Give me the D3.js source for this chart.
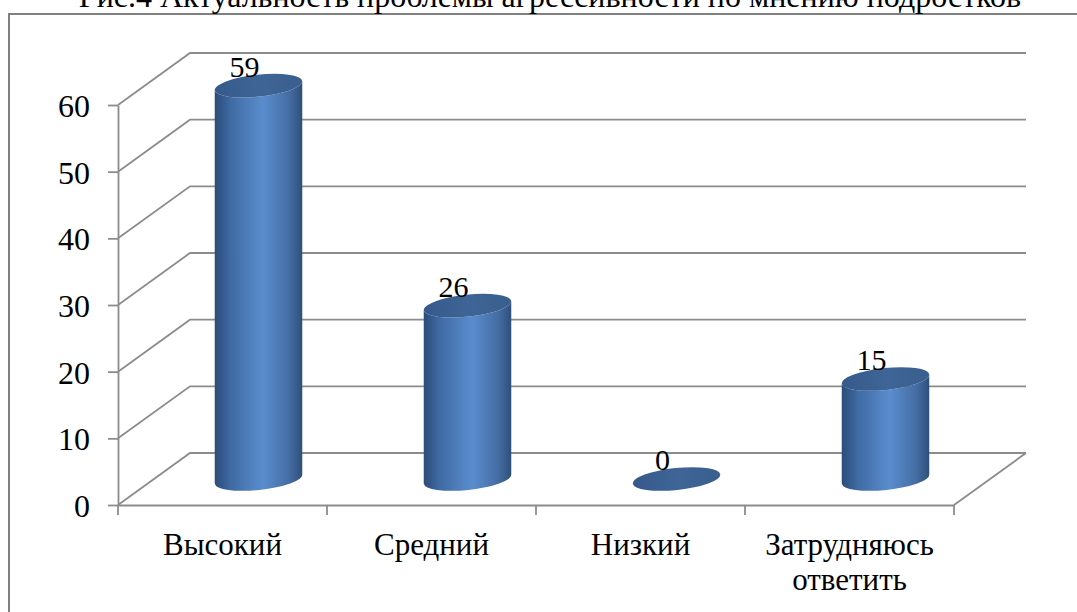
<!DOCTYPE html>
<html>
<head>
<meta charset="utf-8">
<script src="https://cdn.jsdelivr.net/npm/d3@7"></script>
<style>
  body { margin: 0; background: #fff; }
</style>
</head>
<body>
<div class="chart"></div>
<script>
var width = 1077;
var height = 612;
var serif = "'Liberation Serif', 'Times New Roman', Times, serif";

var title = "Рис.4 Актуальность проблемы агрессивности по мнению подростков";
var categories = ["Высокий", "Средний", "Низкий", "Затрудняюсь ответить"];
var values = [59, 26, 0, 15];
var yTicks = [0, 10, 20, 30, 40, 50, 60];

// front plane of the 3d box and the depth offset of the back wall
var plotLeft = 118, plotRight = 954, plotBottom = 505, plotTop = 105;
var depthX = 72, depthY = -52;

var x = d3.scaleBand().domain(categories).range([plotLeft, plotRight]);
var y = d3.scaleLinear().domain([0, 60]).range([plotBottom, plotTop]);

var svg = d3.select(".chart")
    .append("svg")
    .attr("width", width)
    .attr("height", height)
    .attr("font-family", serif);

var defs = svg.append("defs");

var side = defs.append("linearGradient")
    .attr("id", "side")
    .attr("x1", "0%").attr("x2", "100%").attr("y1", "0%").attr("y2", "0%");
side.append("stop").attr("offset", "0%").attr("stop-color", "#2b4c78");
side.append("stop").attr("offset", "18%").attr("stop-color", "#3f6aa3");
side.append("stop").attr("offset", "55%").attr("stop-color", "#5a8dce");
side.append("stop").attr("offset", "85%").attr("stop-color", "#456da3");
side.append("stop").attr("offset", "100%").attr("stop-color", "#2e4f7a");

var cap = defs.append("linearGradient")
    .attr("id", "cap")
    .attr("x1", "0%").attr("x2", "100%").attr("y1", "0%").attr("y2", "0%");
cap.append("stop").attr("offset", "0%").attr("stop-color", "#35598a");
cap.append("stop").attr("offset", "50%").attr("stop-color", "#3e6596");
cap.append("stop").attr("offset", "100%").attr("stop-color", "#3a5f8e");

// outer frame
svg.append("rect")
    .attr("x", 9)
    .attr("y", 14)
    .attr("width", width + 20)
    .attr("height", height + 20)
    .attr("fill", "none")
    .attr("stroke", "#808080")
    .attr("stroke-width", 2);

svg.append("text")
    .attr("x", 550)
    .attr("y", 7)
    .attr("text-anchor", "middle")
    .style("font-family", serif)
    .style("font-size", "32px")
    .text(title);

// side wall + back wall gridlines
svg.selectAll(".grid")
    .data(yTicks)
    .enter().append("polyline")
    .attr("class", "grid")
    .attr("points", function(d) {
        return [[plotLeft, y(d)], [plotLeft + depthX, y(d) + depthY], [plotRight + depthX, y(d) + depthY]].join(" ");
    })
    .attr("fill", "none")
    .attr("stroke", "#8c8c8c")
    .attr("stroke-width", 1.8);

// floor right edge
svg.append("line")
    .attr("x1", plotRight).attr("y1", plotBottom)
    .attr("x2", plotRight + depthX).attr("y2", plotBottom + depthY)
    .attr("stroke", "#8c8c8c")
    .attr("stroke-width", 1.8);

// category boundary ticks
svg.selectAll(".xtick")
    .data(categories.concat([null]))
    .enter().append("line")
    .attr("class", "xtick")
    .attr("x1", function(d) { return d == null ? plotRight : x(d); })
    .attr("x2", function(d) { return d == null ? plotRight : x(d); })
    .attr("y1", plotBottom)
    .attr("y2", plotBottom + 10)
    .attr("stroke", "#8c8c8c")
    .attr("stroke-width", 1.8);

var yAxis = d3.axisLeft(y).tickValues(yTicks).tickSize(10).tickSizeOuter(0).tickPadding(18);
var yAxisG = svg.append("g")
    .attr("transform", "translate(" + plotLeft + ",0)")
    .call(yAxis)
    .attr("font-family", serif);
yAxisG.select(".domain").attr("stroke", "#8c8c8c").attr("stroke-width", 1.8);
yAxisG.selectAll(".tick line").attr("stroke", "#8c8c8c").attr("stroke-width", 1.8);
yAxisG.selectAll(".tick text")
    .style("font-family", serif)
    .style("font-size", "32px")
    .attr("fill", "#000")
    .attr("dy", "0.36em");

var xAxis = d3.axisBottom(x).tickSize(0).tickSizeOuter(0).tickPadding(0);
var xAxisG = svg.append("g")
    .attr("transform", "translate(0," + plotBottom + ")")
    .call(xAxis)
    .attr("font-family", serif);
xAxisG.select(".domain").attr("stroke", "#8c8c8c").attr("stroke-width", 1.8);
xAxisG.selectAll(".tick text").each(function(d) {
    var t = d3.select(this);
    var words = d.split(" ");
    t.text(null).attr("y", 0).attr("dy", null).attr("fill", "#000")
        .style("font-family", serif).style("font-size", "31px");
    words.forEach(function(w, i) {
        t.append("tspan").attr("x", 0).attr("y", 50 + i * 35).text(w);
    });
});

// cylinders
var rx = 44, ry = 11, tilt = -6;
var ax = rx * Math.cos(tilt * Math.PI / 180);
var ay = rx * Math.sin(tilt * Math.PI / 180);

function cx(i) { return x(categories[i]) + x.bandwidth() / 2 + depthX / 2; }
function topY(d) { return y(d) + depthY / 2; }
var baseY = y(0) + depthY / 2;

var bars = svg.selectAll(".bar")
    .data(values)
    .enter().append("g")
    .attr("class", "bar");

bars.append("path")
    .attr("d", function(d, i) {
        if (d <= 0) return null;
        var c = cx(i), t = topY(d);
        return "M" + (c - ax) + "," + (t - ay) +
            "L" + (c - ax) + "," + (baseY - ay) +
            "A" + rx + "," + ry + " " + tilt + " 0 0 " + (c + ax) + "," + (baseY + ay) +
            "L" + (c + ax) + "," + (t + ay) +
            "A" + rx + "," + ry + " " + tilt + " 0 1 " + (c - ax) + "," + (t - ay) + "Z";
    })
    .attr("fill", "url(#side)");

bars.append("ellipse")
    .attr("cx", function(d, i) { return cx(i); })
    .attr("cy", function(d) { return topY(d); })
    .attr("rx", rx)
    .attr("ry", ry)
    .attr("transform", function(d, i) { return "rotate(" + tilt + "," + cx(i) + "," + topY(d) + ")"; })
    .attr("fill", "url(#cap)");

bars.append("text")
    .attr("x", function(d, i) { return cx(i) - 14; })
    .attr("y", function(d) { return topY(d) - 9; })
    .attr("text-anchor", "middle")
    .style("font-family", serif)
    .style("font-size", "30px")
    .text(function(d) { return d; });
</script>
</body>
</html>
